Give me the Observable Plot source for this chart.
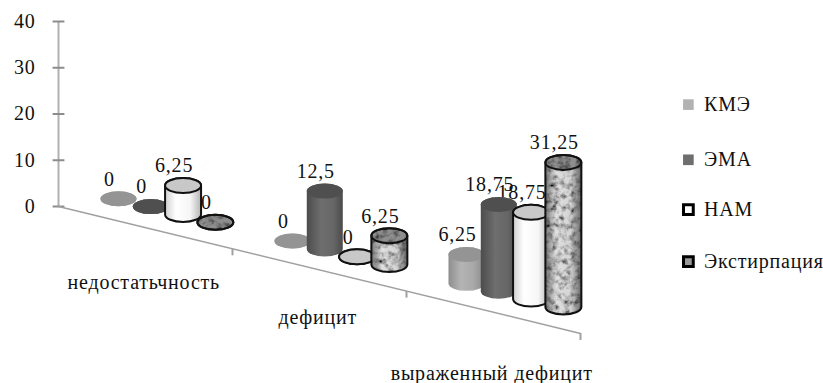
<!DOCTYPE html>
<html>
<head>
<meta charset="utf-8">
<script src="https://cdn.jsdelivr.net/npm/d3@7"></script>
<script src="https://cdn.jsdelivr.net/npm/@observablehq/plot@0.6"></script>
<style>
  html, body { margin: 0; padding: 0; background: #fff; }
  svg { display: block; }
</style>
</head>
<body>
<div id="chart"></div>
<script>
// Chart data
const categories = ["недостатьчность", "дефицит", "выраженный дефицит"];
const seriesNames = ["КМЭ", "ЭМА", "НАМ", "Экстирпация"];
const kme = [0, 0, 6.25];
const ema = [0, 12.5, 18.75];
const nam = [6.25, 0, 18.75];
const ext = [0, 6.25, 31.25];
const valueTicks = [0, 10, 20, 30, 40];

// Oblique projection: the category axis runs down to the right, so each
// unit along it lowers the baseline by `tilt` value units.
const pxPerValue = 4.63;
const tilt = 9.15;
const floorLift = 22 / pxPerValue;
const seriesStep = 0.1856;
const groupOffset = 0.626;
const capRx = 18, capRy = 7.5;
const halfW = capRx / 174, halfH = capRy / pxPerValue;

const rows = [kme, ema, nam, ext].map((values, s) =>
  values.map((value, c) => {
    const u = c + groupOffset + (s - 1.5) * seriesStep;
    const base = floorLift - tilt * u;
    return {s, c, value, u, base, top: base + value, label: String(value).replace(".", ",")};
  })
);

const axisEnds = [0, 3].map(u => ({u, v: -tilt * u}));
const labelDrop = [55, 48, 62];
const catLabels = categories.map((name, c) => {
  const u = c + 0.49;
  return {name, u, v: -tilt * u - labelDrop[c] / pxPerValue};
});
const legendRows = seriesNames.map((name, i) => ({name, v: [22.03, 10.1, -0.65, -11.9][i]}));

// Gradients for the cylinder walls and the stone texture
function defs() {
  const d = d3.create("svg:defs");
  const grad = (id, stops) => {
    const g = d.append("linearGradient").attr("id", id);
    stops.forEach(([o, c]) => g.append("stop").attr("offset", o).attr("stop-color", c));
  };
  grad("wallKme", [[0, "#8e8e8e"], [0.35, "#b4b4b4"], [0.7, "#a8a8a8"], [1, "#8a8a8a"]]);
  grad("wallEma", [[0, "#4c4c4c"], [0.4, "#6e6e6e"], [0.75, "#666"], [1, "#4a4a4a"]]);
  grad("wallNam", [[0, "#cfcfcf"], [0.3, "#ffffff"], [0.7, "#f6f6f6"], [1, "#b4b4b4"]]);
  grad("wallExt", [[0, "#777"], [0.3, "#e0e0e0"], [0.7, "#d4d4d4"], [1, "#666"]]);
  const f = d.append("filter").attr("id", "stone")
    .attr("x", 0).attr("y", 0).attr("width", 1).attr("height", 1);
  f.append("feTurbulence").attr("type", "fractalNoise").attr("baseFrequency", 0.17)
    .attr("numOctaves", 3).attr("seed", 4).attr("result", "n");
  f.append("feColorMatrix").attr("in", "n").attr("type", "matrix")
    .attr("values", "1.4 1.4 0 0 -0.62  1.4 1.4 0 0 -0.62  1.4 1.4 0 0 -0.62  0 0 0 0 1").attr("result", "g");
  f.append("feBlend").attr("in", "SourceGraphic").attr("in2", "g").attr("mode", "multiply").attr("result", "m");
  f.append("feComposite").attr("in", "m").attr("in2", "SourceAlpha").attr("operator", "in");
  return d.node();
}

// One cylinder set: the wall as a rectangle with elliptical corners, then its cap
const wall = (data, extra) => Plot.rect(data, {
  x1: d => d.u - halfW, x2: d => d.u + halfW,
  y1: d => d.base - halfH, y2: d => d.top + halfH,
  rx: capRx, ry: capRy, ...extra
});
const cap = (data, extra) => Plot.rect(data, {
  x1: d => d.u - halfW, x2: d => d.u + halfW,
  y1: d => d.top - halfH, y2: d => d.top + halfH,
  rx: capRx, ry: capRy, ...extra
});

const edge = {stroke: "#111", strokeWidth: 2};

const plot = Plot.plot({
  width: 823,
  height: 383,
  marginLeft: 58,
  marginTop: 0, marginBottom: 0, marginRight: 0,
  x: {domain: [0, 3], range: [58, 580], axis: null},
  y: {domain: [0, 40], range: [206, 21], axis: null},
  style: {background: "#fff", fontFamily: "'Liberation Serif', serif", color: "#111", letterSpacing: "0.8px"},
  marks: [
    defs,
    // Value axis
    Plot.ruleX([0], {y1: 0, y2: 40, stroke: "#b0b0b0", strokeWidth: 2}),
    Plot.link(valueTicks, {x1: -0.034, x2: 0.034, y1: d => d, y2: d => d, stroke: "#8c8c8c", strokeWidth: 2}),
    Plot.axisY(valueTicks, {anchor: "left", tickSize: 0, tickPadding: 23, fontSize: 20, tickFormat: d => d, label: null}),
    // Category axis
    Plot.line(axisEnds, {x: "u", y: "v", stroke: "#a0a0a0", strokeWidth: 1.5}),
    Plot.link([1, 2, 3], {x1: d => d, x2: d => d, y1: d => -tilt * d, y2: d => -tilt * d - 1.4, stroke: "#a0a0a0", strokeWidth: 2}),
    Plot.text(catLabels, {x: "u", y: "v", text: "name", fontSize: 20, fill: "#111"}),
    // Value labels sit behind the cylinders
    Plot.text(rows.flat(), {x: "u", y: "top", text: "label", dx: -9.5, dy: -20, fontSize: 20, fill: "#111"}),
    // КМЭ
    wall(rows[0], {fill: "url(#wallKme)"}),
    cap(rows[0], {fill: "#949494"}),
    // ЭМА
    wall(rows[1], {fill: "url(#wallEma)"}),
    cap(rows[1], {fill: "#4f4f4f"}),
    // НАМ
    wall(rows[2], {fill: "url(#wallNam)", ...edge}),
    cap(rows[2], {fill: "#c8c8c8", ...edge}),
    // Экстирпация
    wall(rows[3], {fill: "url(#wallExt)", imageFilter: "url(#stone)"}),
    cap(rows[3], {fill: "#8e8e8e", imageFilter: "url(#stone)"}),
    wall(rows[3], {fill: "none", ...edge}),
    cap(rows[3], {fill: "none", ...edge}),
    // Legend
    Plot.dot(legendRows.slice(0, 2), {x: 3.62, y: "v", symbol: "square", r: 6, fill: (d, i) => ["#b2b2b2", "#6e6e6e"][i]}),
    Plot.dot(legendRows.slice(2), {x: 3.62, y: "v", symbol: "square", r: 5.5, stroke: "#000", strokeWidth: 3, fill: (d, i) => ["#fff", "#999"][i]}),
    Plot.text(legendRows, {x: 3.71, y: "v", text: "name", textAnchor: "start", fontSize: 20, fill: "#111"})
  ],
  color: {type: "identity"}
});
document.getElementById("chart").append(plot);
</script>
</body>
</html>
